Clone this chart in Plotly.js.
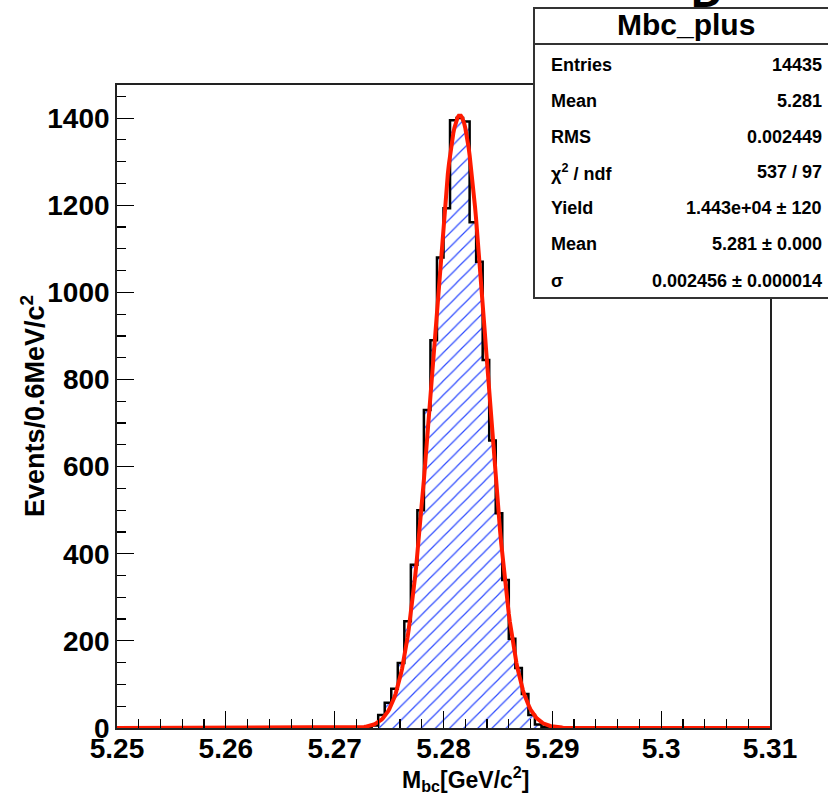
<!DOCTYPE html>
<html>
<head>
<meta charset="utf-8">
<script src="https://cdn.plot.ly/plotly-3.0.1.min.js"></script>
<style>html,body{margin:0;padding:0;background:#fff;}#chart{width:828px;height:799px;}</style>
</head>
<body>
<div id="chart"></div>
<script>
// ---- data ----
const binLow = 5.25;
const binWidth = 0.0006;
const counts = [
  0,0,0,0,0,0,0,0,0,0,
  0,0,0,0,0,0,0,0,0,0,
  0,0,0,0,0,0,0,0,0,0,
  0,0,0,0,0,0,0,0,2,6,
  30,58,90,149,245,375,500,730,890,1080,
  1193,1395,1400,1392,1161,1070,845,660,493,340,
  205,138,78,30,8,3,0,0,0,0,
  0,0,0,0,0,0,0,0,0,0,
  0,0,0,0,0,0,0,0,0,0,
  0,0,0,0,0,0,0,0,0,0
];
const fitYield = 14430;
const fitMean = 5.2815;
const fitSigma = 0.002456;
const xTickVals = [5.25, 5.26, 5.27, 5.28, 5.29, 5.30, 5.31];
const xTickText = ["5.25", "5.26", "5.27", "5.28", "5.29", "5.3", "5.31"];
const statLabels = ["Entries", "Mean", "RMS", "\u03c7<sup>2</sup> / ndf", "Yield", "Mean", "\u03c3"];
const statValues = ["14435", "5.281", "0.002449", "537 / 97", "1.443e+04 \u00b1 120", "5.281 \u00b1 0.000", "0.002456 \u00b1 0.000014"];
const histName = "Mbc_plus";

// ---- derived ----
const centers = counts.map((_, i) => binLow + binWidth * (i + 0.5));
const edges = counts.map((_, i) => binLow + binWidth * i);
edges.push(binLow + binWidth * counts.length);
const stepY = counts.concat([counts[counts.length - 1]]);
const xMax = binLow + binWidth * counts.length;
const fitX = [], fitY = [];
const norm = fitYield * binWidth / (Math.sqrt(2 * Math.PI) * fitSigma);
for (let i = 0; i <= 600; i++) {
  const x = binLow + (xMax - binLow) * i / 600;
  fitX.push(x);
  fitY.push(norm * Math.exp(-0.5 * Math.pow((x - fitMean) / fitSigma, 2)));
}

const FONT = "Liberation Sans, Arial, Helvetica, sans-serif";
const L = 117, R = 770, T = 85, B = 728, W = 828, H = 799;
const px = v => (v - L) / (R - L);
const py = v => (B - v) / (B - T);

const traces = [
  {type: "bar", x: centers, y: counts, width: binWidth,
   marker: {color: "white", line: {width: 0},
            pattern: {shape: "/", fgcolor: "#2f4cff", bgcolor: "white", size: 10, solidity: 0.12, fillmode: "replace"}},
   hoverinfo: "skip"},
  {type: "scatter", mode: "lines", x: edges, y: stepY, line: {shape: "hv", color: "black", width: 2.5}, hoverinfo: "skip"},
  {type: "scatter", mode: "lines", x: fitX, y: fitY, line: {color: "#ff1a00", width: 4}, hoverinfo: "skip"}
];

const annotations = [];
annotations.push({xref: "paper", yref: "paper", x: px(707), y: py(18), xanchor: "center", yanchor: "bottom",
  text: "D", showarrow: false, font: {family: FONT, size: 44, weight: "bold", color: "black"}});
// stats box
annotations.push({xref: "paper", yref: "paper", x: px(533), y: py(7), xanchor: "left", yanchor: "top",
  text: " ", showarrow: false, width: 300, height: 34, bgcolor: "white", bordercolor: "#333", borderwidth: 2, borderpad: 0});
annotations.push({xref: "paper", yref: "paper", x: px(533), y: py(43), xanchor: "left", yanchor: "top",
  text: " ", showarrow: false, width: 300, height: 252, bgcolor: "white", bordercolor: "#333", borderwidth: 2, borderpad: 0});
annotations.push({xref: "paper", yref: "paper", x: px(686), y: py(25), xanchor: "center", yanchor: "middle",
  text: histName, showarrow: false, font: {family: FONT, size: 30, weight: "bold", color: "black"}});
const rowY = [65, 101, 137, 172, 208, 244, 281];
statLabels.forEach((t, i) => {
  annotations.push({xref: "paper", yref: "paper", x: px(549), y: py(rowY[i]), xanchor: "left", yanchor: "middle",
    text: t, showarrow: false, font: {family: FONT, size: 18, weight: "bold", color: "black"}});
  annotations.push({xref: "paper", yref: "paper", x: px(824), y: py(rowY[i]), xanchor: "right", yanchor: "middle",
    text: statValues[i], showarrow: false, font: {family: FONT, size: 18, weight: "bold", color: "black"}});
});
// axis titles
annotations.push({xref: "paper", yref: "paper", x: px(465), y: py(779), xanchor: "center", yanchor: "middle",
  text: "M<sub>bc</sub>[GeV/c<sup>2</sup>]", showarrow: false, font: {family: FONT, size: 23, weight: "bold", color: "black"}});
annotations.push({xref: "paper", yref: "paper", x: px(33), y: py(406), xanchor: "center", yanchor: "middle", textangle: -90,
  text: "Events/0.6MeV/c<sup>2</sup>", showarrow: false, font: {family: FONT, size: 27, weight: "bold", color: "black"}});

const layout = {
  width: W, height: H,
  margin: {l: L, r: W - R, t: T, b: H - B, pad: 0},
  paper_bgcolor: "white", plot_bgcolor: "white",
  showlegend: false, bargap: 0,
  font: {family: FONT, color: "black"},
  xaxis: {range: [binLow, xMax], tickmode: "array", tickvals: xTickVals, ticktext: xTickText,
    ticks: "inside", ticklen: 17, tickwidth: 1.2, tickcolor: "black",
    minor: {tick0: 5.25, dtick: 0.002, ticks: "inside", ticklen: 9, tickwidth: 1.2, tickcolor: "black"},
    showgrid: false, zeroline: false, showline: true, mirror: true, linecolor: "#222", linewidth: 1.8,
    ticklabelstandoff: -5,
    tickfont: {family: FONT, size: 28, weight: "bold", color: "black"}},
  yaxis: {range: [0, 1476], tick0: 0, dtick: 200, ticks: "inside", ticklen: 17, tickwidth: 1.2, tickcolor: "black",
    minor: {dtick: 50, ticks: "inside", ticklen: 9, tickwidth: 1.2, tickcolor: "black"},
    showgrid: false, zeroline: false, showline: true, mirror: true, linecolor: "#222", linewidth: 1.8,
    ticklabelstandoff: 0,
    tickfont: {family: FONT, size: 28, weight: "bold", color: "black"}},
  annotations: annotations
};

Plotly.newPlot("chart", traces, layout, {displayModeBar: false, staticPlot: true});
</script>
</body>
</html>
